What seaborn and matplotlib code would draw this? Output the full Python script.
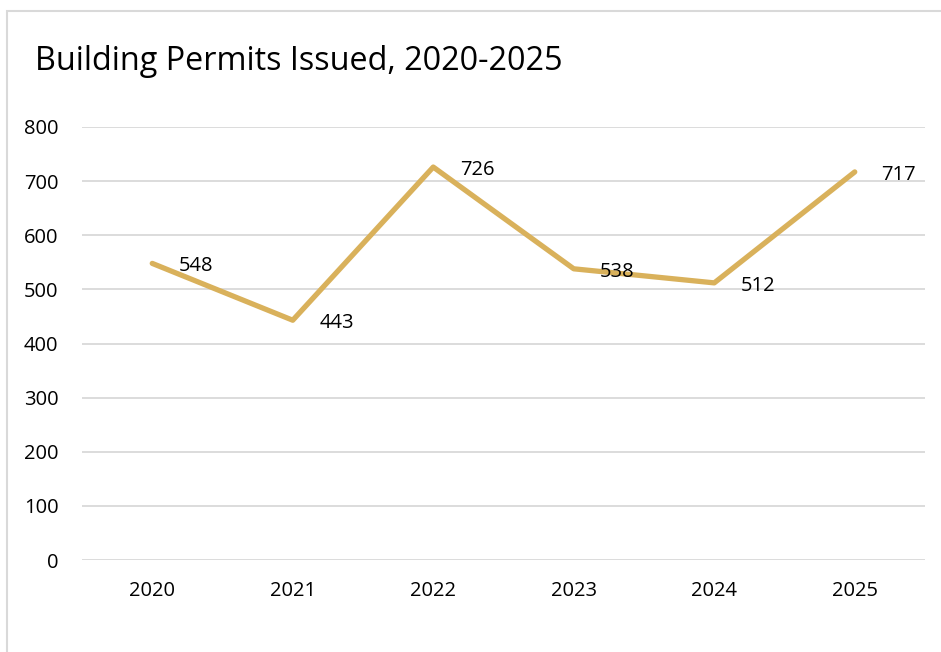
import matplotlib
matplotlib.use("Agg")
import matplotlib.pyplot as plt
import seaborn as sns
import pandas as pd
from matplotlib.patches import Rectangle

years = ["2020", "2021", "2022", "2023", "2024", "2025"]
permits = [548, 443, 726, 538, 512, 717]
y_ticks = [0, 100, 200, 300, 400, 500, 600, 700, 800]

sns.set_theme(style="white")
plt.rcParams["font.family"] = ["Open Sans", "DejaVu Sans"]

df = pd.DataFrame({"year": years, "permits": permits})

fig = plt.figure(figsize=(9.41, 6.52), dpi=100)
ax = fig.add_axes([82/941, 1-560/652, (925-82)/941, (560-127)/652])

sns.lineplot(data=df, x="year", y="permits", ax=ax, color="#D9B15B",
             linewidth=3.8, sort=False, solid_capstyle="round")

ax.set_xlim(-0.5, 5.5)
ax.set_ylim(0, 800)
ax.set_yticks(y_ticks)
ax.yaxis.grid(True, color="#D9D9D9", linewidth=1.3)
ax.set_axisbelow(True)
for s in ax.spines.values():
    s.set_visible(False)
ax.set_xlabel("")
ax.set_ylabel("")
ax.tick_params(axis="both", length=0, labelsize=14.5, colors="black")
ax.tick_params(axis="y", pad=17)
ax.tick_params(axis="x", pad=15)

for i, v in enumerate(permits):
    ax.annotate(str(v), (i, v), xytext=(19, -2), textcoords="offset points",
                ha="left", va="center", fontsize=14.5, color="black")

fig.text(35/941, 1-62/652, "Building Permits Issued, 2020-2025",
         fontsize=23.3, ha="left", va="center", color="black")

fig.add_artist(Rectangle((7/941, -0.1), 1.2, 1-11/652+0.1,
                         transform=fig.transFigure, fill=False,
                         edgecolor="#D9D9D9", linewidth=1.5))

fig.savefig("out.png", dpi=100)
